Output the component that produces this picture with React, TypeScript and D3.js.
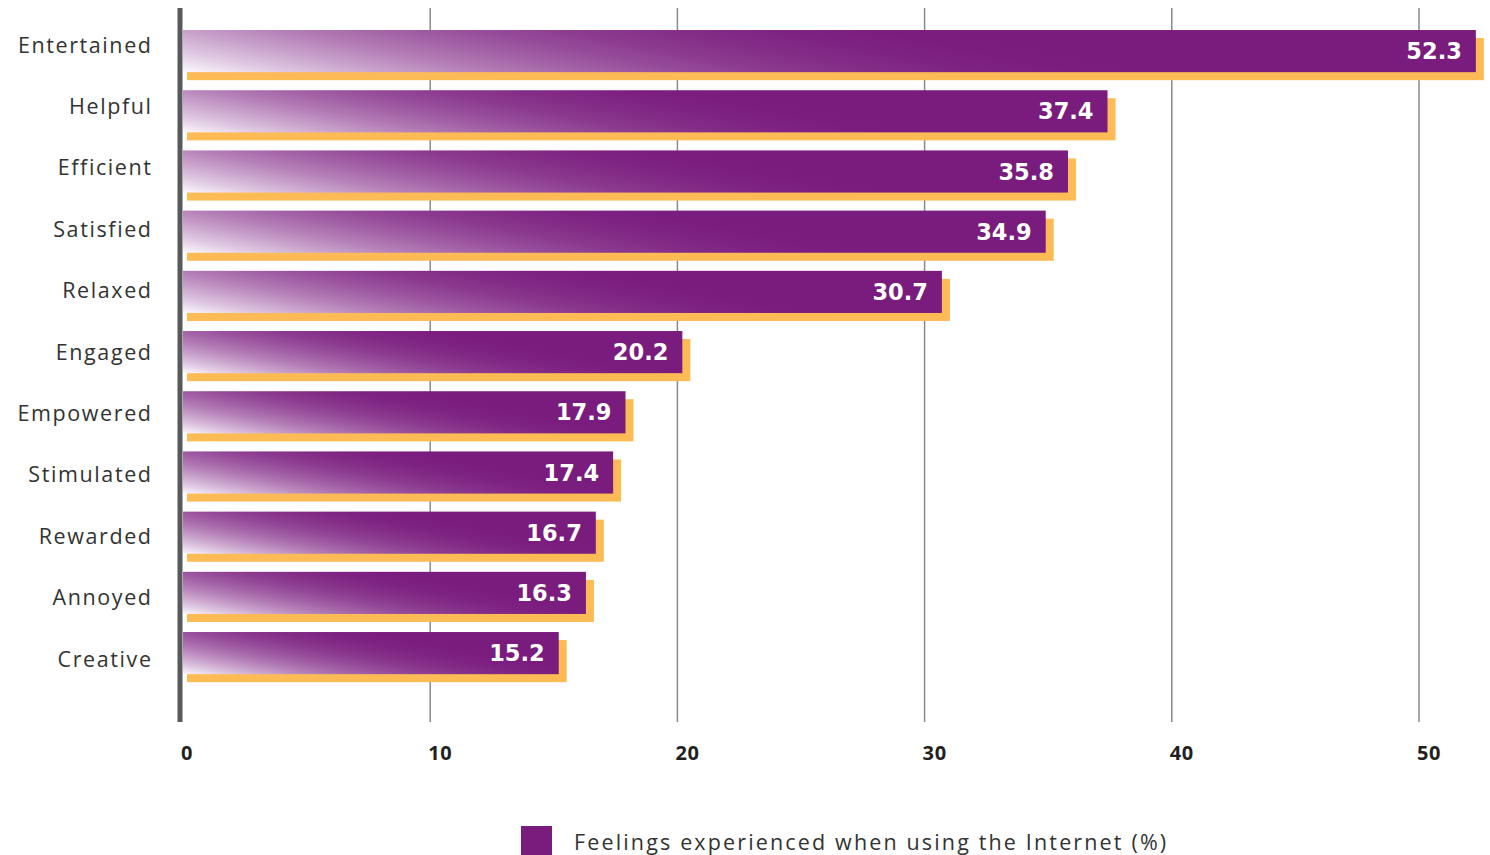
import React from "react";
import * as d3 from "d3";

const categories = ["Entertained", "Helpful", "Efficient", "Satisfied", "Relaxed", "Engaged", "Empowered", "Stimulated", "Rewarded", "Annoyed", "Creative"];
const values = [52.3, 37.4, 35.8, 34.9, 30.7, 20.2, 17.9, 17.4, 16.7, 16.3, 15.2];
const xTicks = [0, 10, 20, 30, 40, 50];
const legendLabel = "Feelings experienced when using the Internet (%)";

const PURPLE = "#7a1c7e";
const ORANGE = "#fdbb55";
const W = 1490;
const H = 855;

export default function App() {
  const x = d3.scaleLinear().domain([0, 55]).range([183, 183 + 55 * 24.72]);
  const y = d3.scaleBand<string>().domain(categories).range([21, 683.2]).paddingInner(0.3).paddingOuter(0.15);
  const yLabel = d3.scalePoint<string>().domain(categories).range([45, 659]);
  const bw = y.bandwidth();
  const mix = d3.interpolateRgb("#fbf8fd", PURPLE);
  const offsets = d3.range(0, 1.0001, 0.1);

  return (
    <svg width={W} height={H} style={{ position: "absolute", left: 0, top: 0 }} fontFamily="'Open Sans', sans-serif">
      <defs>
        {values.map((v, i) => {
          const x0 = x(0);
          const w = x(v) - x0;
          const top = y(categories[i])!;
          const yb = top + bw;
          const L = 200 + 0.62 * w;
          return (
            <linearGradient key={i} id={`g${i}`} gradientUnits="userSpaceOnUse" x1={x0} y1={yb} x2={x0 + L / 26} y2={yb - (5 * L) / 26}>
              {offsets.map((t) => (
                <stop key={t} offset={t} stopColor={mix(1 - Math.pow(1 - t, 2.2))} />
              ))}
            </linearGradient>
          );
        })}
      </defs>
      {xTicks.filter((t) => t > 0).map((t) => (
        <line key={t} x1={x(t)} x2={x(t)} y1={8} y2={722} stroke="#8a8a8a" strokeWidth={1.5} />
      ))}
      {values.map((v, i) => {
        const x0 = x(0);
        const x1 = x(v);
        const top = y(categories[i])!;
        return (
          <g key={categories[i]}>
            <rect x={x0 + 4} y={top + 8} width={x1 - x0 + 4} height={bw} fill={ORANGE} />
            <rect x={x0} y={top} width={x1 - x0} height={bw} fill={`url(#g${i})`} />
            <text x={x1 - 14} y={top + bw / 2} dy="0.36em" textAnchor="end" fill="#fff" fontWeight={700} fontSize={22.5} fontFamily="'DejaVu Sans', sans-serif">
              {v.toFixed(1)}
            </text>
          </g>
        );
      })}
      {categories.map((c) => (
        <text key={c} x={152.6} y={yLabel(c)! + 7.5} textAnchor="end" fill="#333" fontSize={21.5} letterSpacing={1.6}>
          {c}
        </text>
      ))}
      <line x1={180} x2={180} y1={8} y2={722} stroke="#58595b" strokeWidth={5} />
      {xTicks.map((t) => (
        <text key={t} x={x(t) - 2} y={760} fill="#231f20" fontWeight={700} fontSize={20} letterSpacing={0.6}>
          {t}
        </text>
      ))}
      <rect x={521} y={826} width={31} height={29} fill={PURPLE} />
      <text x={574} y={850} fill="#333" fontSize={21.5} letterSpacing={2.15}>
        {legendLabel}
      </text>
    </svg>
  );
}
